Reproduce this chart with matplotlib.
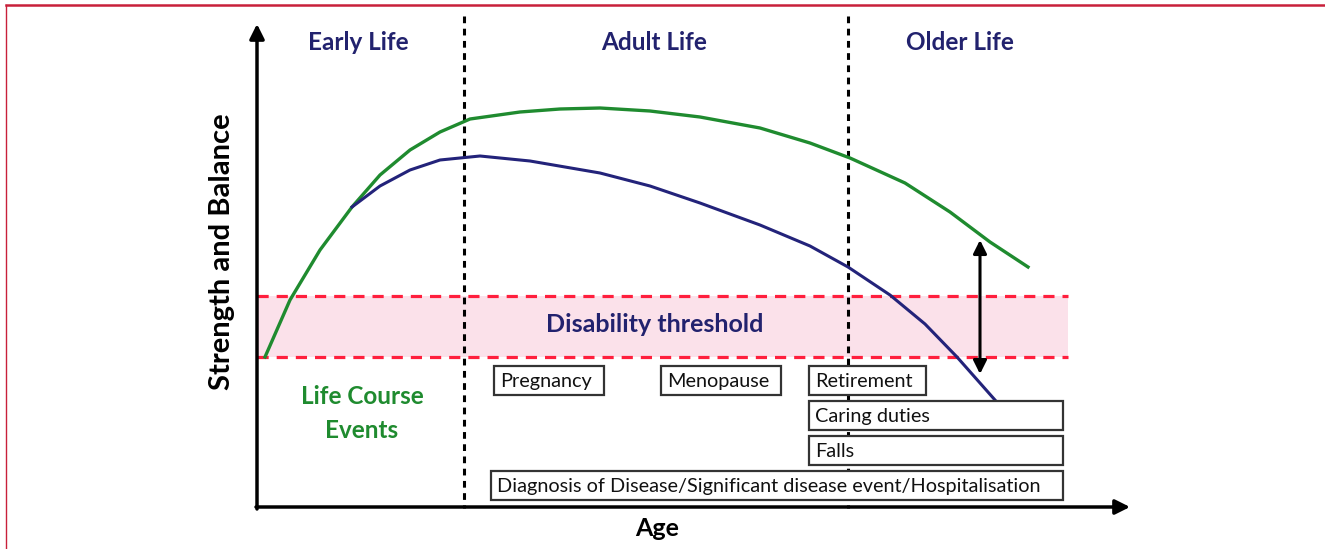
import matplotlib
matplotlib.use("Agg")
import matplotlib.pyplot as plt
from matplotlib.patches import Rectangle

# curves (x = age position, y = strength, pixel space)
green_x = [265, 290, 320, 352, 380, 410, 440, 470, 520, 560, 600, 650, 700, 760, 810, 850, 905, 950, 990, 1028]
green_y = [357, 300, 250, 207, 175, 150, 132, 119, 112, 109, 108, 111, 117, 128, 143, 158, 183, 212, 242, 267]
blue_x = [352, 380, 410, 440, 480, 530, 600, 650, 700, 760, 810, 848, 890, 925, 957, 995]
blue_y = [207, 186, 170, 160, 156, 161, 173, 186, 203, 225, 246, 267, 295, 324, 357, 400]

phases = ["Early Life", "Adult Life", "Older Life"]
phase_x = [358, 654, 960]
dividers = [464, 848]

threshold_top, threshold_bottom = 296, 357

events = ["Pregnancy", "Menopause", "Retirement", "Caring duties", "Falls",
          "Diagnosis of Disease/Significant disease event/Hospitalisation"]
event_left = [494, 661, 809, 809, 809, 491]
event_right = [604, 781, 926, 1063, 1063, 1063]
event_top = [366, 366, 366, 401, 436, 471]
event_height = 29

NAVY = "#22226e"
GREEN = "#1f8b2f"
plt.rcParams["font.family"] = ["Lato", "DejaVu Sans"]

fig = plt.figure(figsize=(13.25, 5.49), dpi=100)
ax = fig.add_axes([0, 0, 1, 1])
ax.set_xlim(0, 1325)
ax.set_ylim(549, 0)
ax.axis("off")

# outer frame (top and left edges only)
ax.plot([6, 1325], [5, 5], color="#c8203a", lw=1.8)
ax.plot([6, 6], [5, 549], color="#c8203a", lw=1.0)

# disability band
ax.add_patch(Rectangle((257, threshold_top), 811, threshold_bottom - threshold_top,
                       fc="#fbe1ea", ec="none", zorder=1))
for yy in (threshold_top, threshold_bottom):
    ax.plot([257, 1068], [yy, yy], color="#ff1f3d", lw=2.3, dashes=(3.5, 2.5), zorder=2)
ax.text(655, 324, "Disability threshold", color=NAVY, fontsize=18, fontweight="bold",
        ha="center", va="center", zorder=3)

# phase dividers
for dx in dividers:
    ax.plot([dx, dx], [16, 508], color="black", lw=2.2, dashes=(2.2, 1.8), zorder=2)

# axes arrows
ax.annotate("", xy=(257, 24), xytext=(257, 509),
            arrowprops=dict(arrowstyle="-|>", lw=2.5, color="black", mutation_scale=22,
                            shrinkA=0, shrinkB=0), zorder=5)
ax.annotate("", xy=(1130, 507), xytext=(256, 507),
            arrowprops=dict(arrowstyle="-|>", lw=2.5, color="black", mutation_scale=22,
                            shrinkA=0, shrinkB=0), zorder=5)

# curves
ax.plot(green_x, green_y, color=GREEN, lw=2.4, zorder=4)
ax.plot(blue_x, blue_y, color="#23237a", lw=2.2, zorder=4)

# gap arrow
ax.annotate("", xy=(980, 240), xytext=(980, 374),
            arrowprops=dict(arrowstyle="<|-|>", lw=2.2, color="black", mutation_scale=20,
                            shrinkA=0, shrinkB=0), zorder=5)

# labels
for name, px in zip(phases, phase_x):
    ax.text(px, 43, name, color=NAVY, fontsize=17.5, fontweight="bold", ha="center", va="center")
ax.text(222, 252, "Strength and Balance", rotation=90, fontsize=21, fontweight="bold",
        ha="center", va="center")
ax.text(657, 528, "Age", fontsize=18, fontweight="bold", ha="center", va="center")
ax.text(362, 396, "Life Course", color=GREEN, fontsize=17.5, fontweight="bold", ha="center", va="center")
ax.text(362, 430, "Events", color=GREEN, fontsize=17.5, fontweight="bold", ha="center", va="center")

# event boxes
for name, l, r, t in zip(events, event_left, event_right, event_top):
    ax.add_patch(Rectangle((l, t), r - l, event_height, fc="white", ec="#333333", lw=1.6, zorder=6))
    ax.text(l + 6, t + event_height / 2 + 1, name, fontsize=14.3, ha="left", va="center",
            color="#111111", zorder=7)

fig.savefig("out.png", dpi=100)
